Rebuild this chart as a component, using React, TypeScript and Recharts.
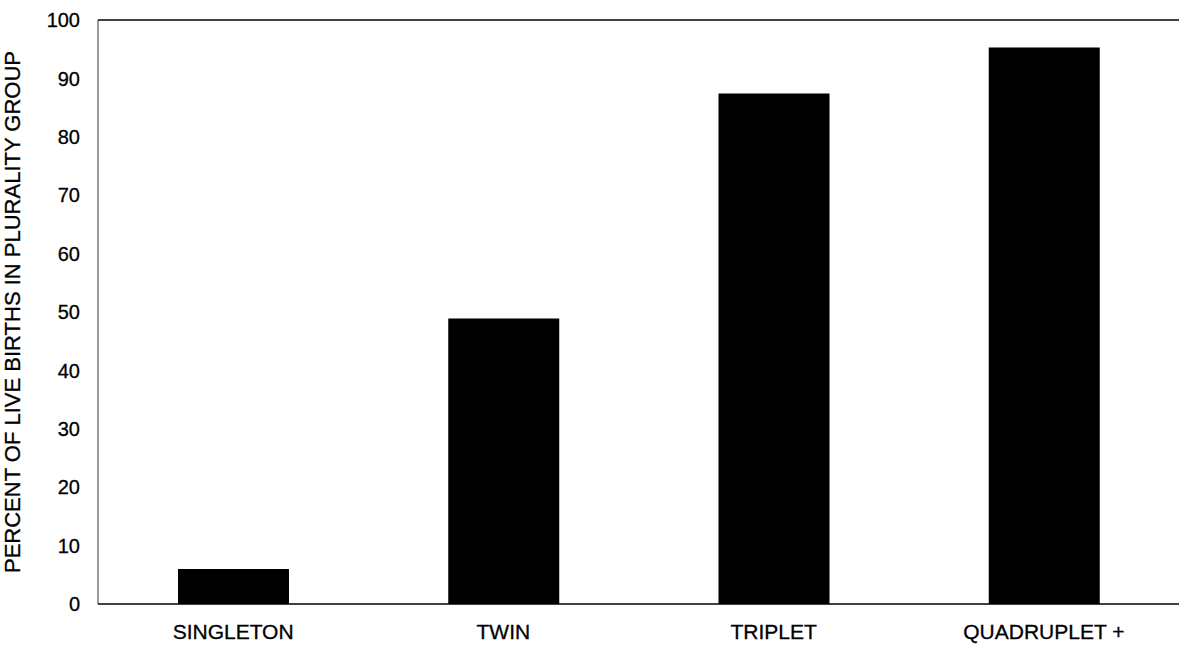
import React from 'react';
import { BarChart, Bar, XAxis, YAxis, ReferenceLine, Label } from 'recharts';

// Plurality groups and share of live births (percent)
const groups = ['SINGLETON', 'TWIN', 'TRIPLET', 'QUADRUPLET +'];
const percents = [6.0, 48.9, 87.4, 95.3];
const yTicks = [0, 10, 20, 30, 40, 50, 60, 70, 80, 90, 100];

const data = groups.map((name, i) => ({ name, value: percents[i] }));

const FONT = '"Liberation Sans", Arial, sans-serif';

const App: React.FC = () => {
    return (
        <div style={{ position: 'fixed', left: 0, top: 0, width: 1180, height: 648, background: '#fff' }}>
            <BarChart
                width={1180}
                height={648}
                data={data}
                margin={{ top: 20, right: 1, left: 0, bottom: 0 }}
                barSize={111}
            >
                <XAxis
                    dataKey="name"
                    height={44}
                    tickSize={0}
                    tickMargin={20}
                    axisLine={{ stroke: '#000', strokeWidth: 1.5 }}
                    tick={{ fill: '#000', stroke: '#000', strokeWidth: 0.3, fontSize: 21, fontFamily: FONT }}
                />
                <YAxis
                    width={98}
                    domain={[0, 100]}
                    ticks={yTicks}
                    interval={0}
                    tickSize={0}
                    tickMargin={18}
                    axisLine={{ stroke: '#333', strokeWidth: 1 }}
                    tick={{ fill: '#000', stroke: '#000', strokeWidth: 0.3, fontSize: 20, fontFamily: FONT }}
                >
                    <Label
                        value="PERCENT OF LIVE BIRTHS IN PLURALITY GROUP"
                        angle={-90}
                        position="insideLeft"
                        offset={12}
                        style={{ textAnchor: 'middle', fill: '#000', stroke: '#000', strokeWidth: 0.3, fontSize: 22, fontFamily: FONT }}
                    />
                </YAxis>
                <ReferenceLine y={100} stroke="#000" strokeWidth={1.5} />
                <Bar dataKey="value" fill="#000" isAnimationActive={false} />
            </BarChart>
        </div>
    );
};

export default App;
